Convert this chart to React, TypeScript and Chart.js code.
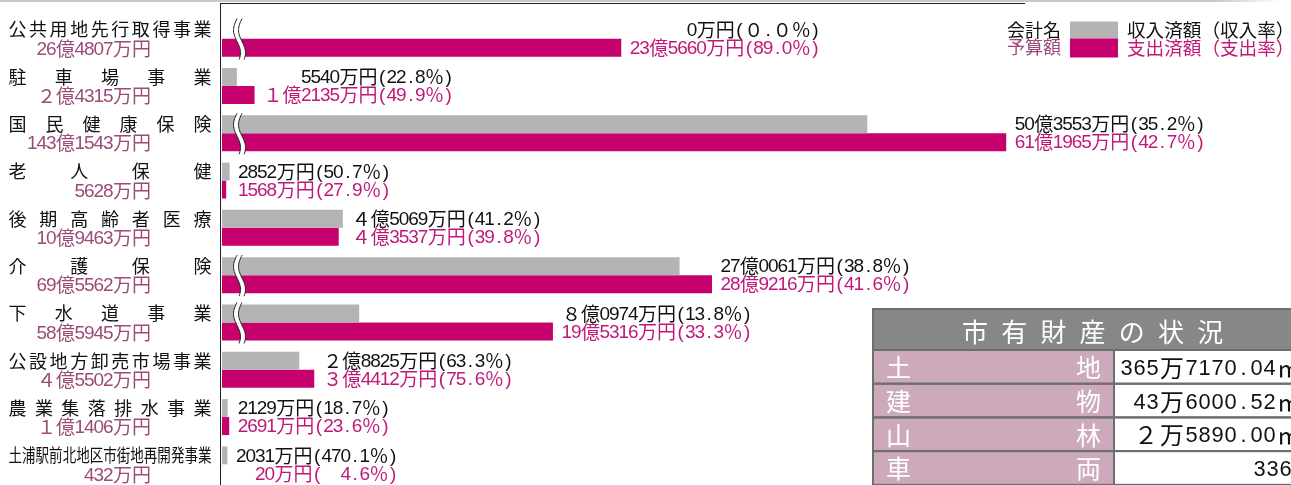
import React, { useEffect, useRef } from "react";
import { Chart, registerables } from "chart.js";
Chart.register(...registerables);

// ---- data (amounts in 万円) ----
const categories = [
  "公共用地先行取得事業",
  "駐車場事業",
  "国民健康保険",
  "老人保健",
  "後期高齢者医療",
  "介護保険",
  "下水道事業",
  "公設地方卸売市場事業",
  "農業集落排水事業",
  "土浦駅前北地区市街地再開発事業",
];
const budgetLabels = [
  "26億4807万円",
  "２億4315万円",
  "143億1543万円",
  "5628万円",
  "10億9463万円",
  "69億5562万円",
  "58億5945万円",
  "４億5502万円",
  "１億1406万円",
  "432万円",
];
const revenue = [0, 5540, 503553, 2852, 45069, 270061, 80974, 28825, 2129, 2031];
const spending = [235660, 12135, 611965, 1568, 43537, 289216, 195316, 34412, 2691, 20];
const revenueLabels = [
  "0万円(０.０％)",
  "5540万円(22.8％)",
  "50億3553万円(35.2％)",
  "2852万円(50.7％)",
  "４億5069万円(41.2％)",
  "27億0061万円(38.8％)",
  "８億0974万円(13.8％)",
  "２億8825万円(63.3％)",
  "2129万円(18.7％)",
  "2031万円(470.1％)",
];
const spendingLabels = [
  "23億5660万円(89.0％)",
  "１億2135万円(49.9％)",
  "61億1965万円(42.7％)",
  "1568万円(27.9％)",
  "４億3537万円(39.8％)",
  "28億9216万円(41.6％)",
  "19億5316万円(33.3％)",
  "３億4412万円(75.6％)",
  "2691万円(23.6％)",
  "20万円(　4.6％)",
];
// compression of the broken (≈) axis per row; 1 = no break
const axisBreak = [0.632, 1, 0.478, 1, 1, 0.632, 0.632, 1, 1, 1];

const legendNames = ["会計名", "予算額"];
const legendSeries = ["収入済額（収入率）", "支出済額（支出率）"];

const tableTitle = "市有財産の状況";
const tableItems = ["土地", "建物", "山林", "車両"];
const tableValues = ["365万7170.04㎡", "43万6000.52㎡", "２万5890.00㎡", "336台"];

// ---- styles ----
const GRAY = "#b4b4b4";
const MAGENTA = "#c6006c";
const MAGENTA_TEXT = "#c01878";
const BUDGET_TEXT = "#9c4a76";
const CJK = "'Noto Sans CJK JP'";
const NARROW = "'Liberation Sans Narrow', 'Liberation Sans'";

function isHalf(ch: string) {
  const c = ch.charCodeAt(0);
  return c < 0x2e80 || (c >= 0xff61 && c <= 0xff9f);
}
function cellsWidth(text: string, size: number) {
  let w = 0;
  for (const ch of Array.from(text)) w += isHalf(ch) ? size / 2 : size;
  return w;
}
function drawCells(
  ctx: CanvasRenderingContext2D,
  text: string,
  left: number,
  y: number,
  size: number,
  color: string,
  halfGlyph = 1,
  fullGlyph = 1
) {
  ctx.save();
  ctx.fillStyle = color;
  ctx.textAlign = "center";
  ctx.textBaseline = "middle";
  let x = left;
  for (const ch of Array.from(text)) {
    const half = isHalf(ch);
    const w = half ? size / 2 : size;
    ctx.font = half ? `${size * halfGlyph}px ${NARROW}` : `${size * fullGlyph}px ${CJK}`;
    ctx.fillText(ch, x + w / 2, half ? y + 1 : y);
    x += w;
  }
  ctx.restore();
}
function drawJustified(ctx: CanvasRenderingContext2D, text: string, left: number, right: number, y: number, size: number, color: string) {
  const chars = Array.from(text);
  const n = chars.length;
  const total = right - left;
  ctx.save();
  ctx.fillStyle = color;
  ctx.textAlign = "center";
  ctx.textBaseline = "middle";
  ctx.font = `${size}px ${CJK}`;
  if (n * size > total) {
    ctx.translate(left, y);
    ctx.scale(total / (n * size), 1);
    chars.forEach((ch, i) => ctx.fillText(ch, i * size + size / 2, 0));
  } else {
    const gap = n > 1 ? (total - size) / (n - 1) : 0;
    chars.forEach((ch, i) => ctx.fillText(ch, left + i * gap + size / 2, y));
  }
  ctx.restore();
}
function drawBreak(ctx: CanvasRenderingContext2D, cx: number, top: number, bottom: number) {
  const A = 3.5;
  const sep = 5;
  const N = 30;
  const pts: number[][] = [];
  for (let i = 0; i <= N; i++) {
    const t = i / N;
    pts.push([cx - A * Math.sin(2 * Math.PI * t * 0.9), top + t * (bottom - top)]);
  }
  ctx.save();
  ctx.beginPath();
  pts.forEach(([x, y], i) => (i ? ctx.lineTo(x, y) : ctx.moveTo(x, y)));
  for (let i = N; i >= 0; i--) ctx.lineTo(pts[i][0] + sep, pts[i][1]);
  ctx.closePath();
  ctx.fillStyle = "#ffffff";
  ctx.fill();
  ctx.strokeStyle = "#222";
  ctx.lineWidth = 1;
  for (const dx of [0, sep]) {
    ctx.beginPath();
    pts.forEach(([x, y], i) => (i ? ctx.lineTo(x + dx, y) : ctx.moveTo(x + dx, y)));
    ctx.stroke();
  }
  ctx.restore();
}

const decorPlugin = {
  id: "decor",
  afterDatasetsDraw(chart: any) {
    const ctx: CanvasRenderingContext2D = chart.ctx;
    const yScale = chart.scales.y;
    const m0 = chart.getDatasetMeta(0);
    const m1 = chart.getDatasetMeta(1);

    // frame lines
    ctx.save();
    const g = ctx.createLinearGradient(0, 0, 1280, 0);
    g.addColorStop(0, "#c8c8c8");
    g.addColorStop(0.95, "#c8c8c8");
    g.addColorStop(1, "rgba(200,200,200,0)");
    ctx.fillStyle = g;
    ctx.fillRect(0, 0, 1280, 2);
    ctx.fillStyle = "#222";
    ctx.fillRect(220, 3, 805, 1);
    ctx.fillRect(220, 3, 1, 500);
    ctx.restore();

    categories.forEach((name, i) => {
      const cy = yScale.getPixelForValue(i);
      drawJustified(ctx, name, 8.5, 211.5, cy - 9, 18, "#111");
      const bw = cellsWidth(budgetLabels[i], 19);
      drawCells(ctx, budgetLabels[i], 151 - bw, cy + 10, 19, BUDGET_TEXT);

      if (axisBreak[i] < 1) drawBreak(ctx, 237, cy - 20, cy + 21);

      const b0 = m0.data[i];
      const b1 = m1.data[i];
      const end = Math.max(b0.x, b1.x);
      const w0 = cellsWidth(revenueLabels[i], 19);
      const w1 = cellsWidth(spendingLabels[i], 19);
      const right = end + 9 + Math.max(w0, w1);
      drawCells(ctx, revenueLabels[i], right - w0, b0.y, 19, "#111");
      drawCells(ctx, spendingLabels[i], right - w1, b1.y, 19, MAGENTA_TEXT);
    });

    // legend
    drawCells(ctx, legendNames[0], 1007, 30, 18, "#111");
    drawCells(ctx, legendNames[1], 1007, 47.5, 18, BUDGET_TEXT);
    ctx.fillStyle = GRAY;
    ctx.fillRect(1070, 21.5, 48, 17);
    ctx.fillStyle = MAGENTA;
    ctx.fillRect(1070, 38.5, 48, 19);
    drawCells(ctx, legendSeries[0], 1127, 30, 18.6, "#111");
    drawCells(ctx, legendSeries[1], 1127, 47.5, 18.6, MAGENTA_TEXT);

    // property table
    ctx.save();
    const tx = 873;
    const headTop = 309;
    const headBot = 350;
    const rowH = 33.7;
    const split = 1114;
    ctx.fillStyle = "#878787";
    ctx.fillRect(tx, headTop, 1291 - tx, headBot - headTop);
    const titleChars = Array.from(tableTitle);
    ctx.fillStyle = "#ffffff";
    ctx.font = `26px ${CJK}`;
    ctx.textAlign = "center";
    ctx.textBaseline = "middle";
    titleChars.forEach((ch, k) => ctx.fillText(ch, 975 + k * 39.2, 332));
    tableItems.forEach((item, r) => {
      const top = headBot + r * rowH;
      ctx.fillStyle = "#cdaabb";
      ctx.fillRect(tx, top, split - tx, rowH);
      ctx.fillStyle = "#ffffff";
      ctx.fillRect(split, top, 1291 - split, rowH);
      const chars = Array.from(item);
      ctx.fillStyle = "#ffffff";
      ctx.font = `25px ${CJK}`;
      ctx.textAlign = "left";
      ctx.fillText(chars[0], 886, top + rowH / 2 + 1);
      ctx.textAlign = "right";
      ctx.fillText(chars[1], 1101, top + rowH / 2 + 1);
      const v = tableValues[r];
      const vw = cellsWidth(v, 26);
      const vr = r === 3 ? 1318 : 1302;
      drawCells(ctx, v, vr - vw, top + rowH / 2 + 1, 26, "#111", 0.84, 0.92);
    });
    ctx.strokeStyle = "#6e6e6e";
    ctx.lineWidth = 2;
    ctx.strokeRect(tx, headTop, 1291 - tx + 4, headBot - headTop);
    for (let r = 0; r < tableItems.length; r++) {
      const top = headBot + r * rowH;
      ctx.strokeRect(tx, top, split - tx, rowH);
      ctx.strokeRect(split, top, 1291 - split + 4, rowH);
    }
    ctx.restore();
  },
};

export default function App() {
  const ref = useRef<HTMLCanvasElement | null>(null);
  useEffect(() => {
    if (!ref.current) return;
    const chart = new Chart(ref.current, {
      type: "bar",
      data: {
        labels: categories,
        datasets: [
          {
            label: legendSeries[0],
            data: revenue.map((v, i) => v * axisBreak[i]),
            backgroundColor: GRAY,
            borderWidth: 0,
            categoryPercentage: 0.761,
            barPercentage: 1,
          },
          {
            label: legendSeries[1],
            data: spending.map((v, i) => v * axisBreak[i]),
            backgroundColor: MAGENTA,
            borderWidth: 0,
            categoryPercentage: 0.761,
            barPercentage: 1,
          },
        ],
      },
      options: {
        indexAxis: "y",
        animation: false,
        responsive: false,
        devicePixelRatio: 1,
        layout: { padding: { left: 222, right: 2, top: 15, bottom: 12 } },
        scales: {
          x: { display: false, min: 0, max: 398000 },
          y: { display: false },
        },
        plugins: { legend: { display: false }, tooltip: { enabled: false } },
      },
      plugins: [decorPlugin],
    });
    return () => chart.destroy();
  }, []);
  return (
    <div style={{ position: "fixed", left: 0, top: 0, width: 1291, height: 485, overflow: "hidden", background: "#fff" }}>
      <canvas ref={ref} width={1291} height={500} style={{ display: "block" }} />
    </div>
  );
}
